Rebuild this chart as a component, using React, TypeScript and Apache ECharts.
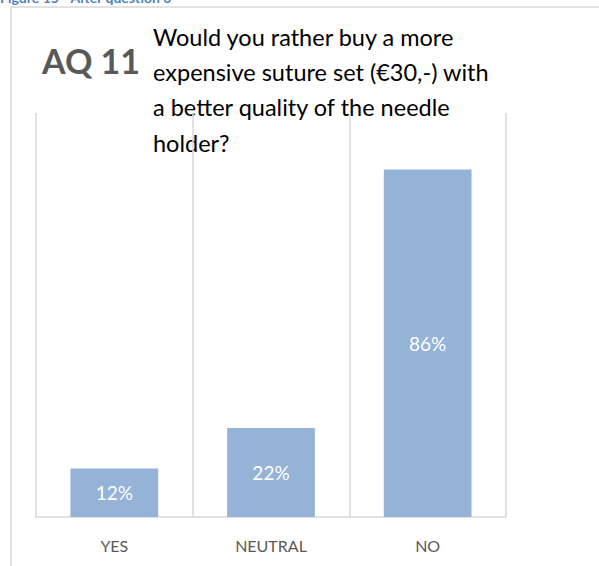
import React, { useEffect, useRef } from "react";
import * as echarts from "echarts";

const categories = ["YES", "NEUTRAL", "NO"];
const values = [12, 22, 86];
const captionText = "Figure 15 - After question 3";
const titleCode = "AQ 11";
const questionLines = [
  "Would you rather buy a more",
  "expensive suture set (€30,-) with",
  "a better quality of the needle",
  "holder?",
];

export default function App() {
  const ref = useRef<HTMLDivElement>(null);
  useEffect(() => {
    const chart = echarts.init(ref.current!, null, { renderer: "svg" });
    chart.setOption({
      animation: false,
      grid: { left: 36, right: 93, top: 113, bottom: 49 },
      xAxis: {
        type: "category",
        data: categories,
        boundaryGap: true,
        axisLine: { show: true, lineStyle: { color: "#d9d9d9", width: 1.5 } },
        axisTick: { show: false },
        splitLine: { show: true, lineStyle: { color: "#d9d9d9", width: 1.5 } },
        axisLabel: {
          color: "#595959",
          fontFamily: "Lato",
          fontSize: 16,
          margin: 20,
        },
      },
      yAxis: {
        type: "value",
        min: 0,
        max: 100,
        show: false,
        splitLine: { show: false },
      },
      series: [
        {
          type: "bar",
          data: values,
          barWidth: "56%",
          itemStyle: { color: "#95B3D7" },
          label: {
            show: true,
            position: "inside",
            formatter: "{c}%",
            color: "#ffffff",
            fontFamily: "Lato",
            fontSize: 19,
          },
        },
      ],
      graphic: [
        {
          type: "line",
          shape: { x1: 11, y1: 7, x2: 599, y2: 7 },
          style: { stroke: "#d9d9d9", lineWidth: 1.5 },
        },
        {
          type: "line",
          shape: { x1: 11, y1: 7, x2: 11, y2: 566 },
          style: { stroke: "#d9d9d9", lineWidth: 1.5 },
        },
        {
          type: "text",
          x: 0,
          y: 4,
          style: {
            text: captionText,
            fill: "#4F81BD",
            font: "bold 14px Lato",
            textVerticalAlign: "bottom",
          },
        },
        {
          type: "text",
          x: 42,
          y: 60,
          style: {
            text: titleCode,
            fill: "#595959",
            font: "bold 34px Lato",
            textVerticalAlign: "middle",
          },
        },
        {
          type: "text",
          x: 153,
          y: 19,
          style: {
            text: questionLines.join("\n"),
            fill: "#000000",
            font: "23.5px Lato",
            lineHeight: 35.3,
            textVerticalAlign: "top",
          },
        },
      ],
    });
    return () => chart.dispose();
  }, []);
  return (
    <div
      ref={ref}
      style={{ position: "absolute", left: 0, top: 0, width: 599, height: 566 }}
    />
  );
}
